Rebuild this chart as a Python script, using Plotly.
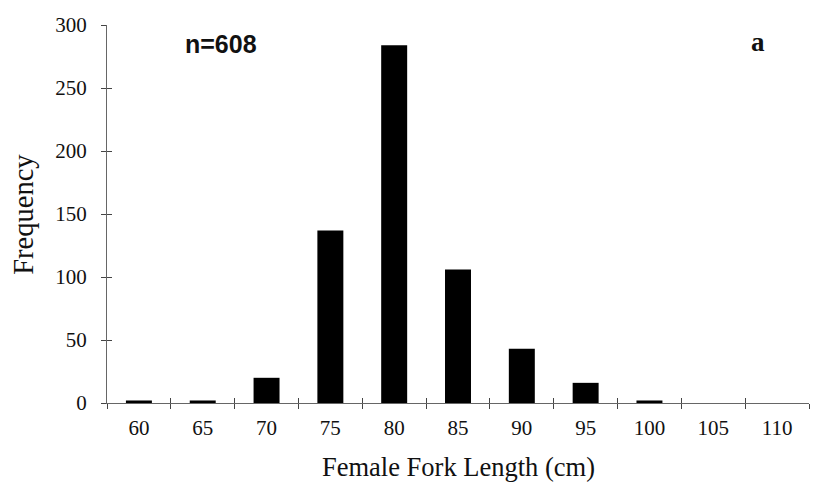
import plotly.graph_objects as go

categories = ["60", "65", "70", "75", "80", "85", "90", "95", "100", "105", "110"]
frequency = [2, 2, 20, 137, 284, 106, 43, 16, 2, 0, 0]
y_ticks = [0, 50, 100, 150, 200, 250, 300]

serif = "Liberation Serif, Times New Roman, serif"
sans = "Liberation Sans, Arial, sans-serif"

fig = go.Figure()
fig.add_trace(go.Bar(x=categories, y=frequency, marker=dict(color="black", line=dict(width=0)),
                     showlegend=False, hoverinfo="skip"))
# invisible copy on overlay axes so inner tick halves can be drawn
fig.add_trace(go.Bar(x=categories, y=frequency, xaxis="x2", yaxis="y2", opacity=0,
                     showlegend=False, hoverinfo="skip"))

common_x = dict(type="category", tickson="boundaries", categoryorder="array",
                categoryarray=categories, range=[-0.5, len(categories) - 0.5],
                tickcolor="#444", tickwidth=1, showgrid=False, automargin=False)
common_y = dict(range=[0, 300], tickvals=y_ticks, tickcolor="#444", tickwidth=1,
                showgrid=False, zeroline=False, automargin=False)

fig.update_layout(
    width=815, height=489,
    margin=dict(l=107, r=6, t=25, b=86),
    paper_bgcolor="white", plot_bgcolor="white",
    bargap=0.593,
    font=dict(family=serif, color="#111", size=21),
    xaxis=dict(**common_x, ticks="outside", ticklen=5, showline=True, linecolor="#666",
               linewidth=1, tickfont=dict(family=serif, size=21, color="#111"),
               ticklabelstandoff=6),
    yaxis=dict(**common_y, ticks="outside", ticklen=5, showline=True, linecolor="#666",
               linewidth=1, tickfont=dict(family=serif, size=21, color="#111"),
               ticklabelstandoff=10),
    xaxis2=dict(**common_x, overlaying="x", side="bottom", ticks="inside", ticklen=5,
                showline=False, showticklabels=False, anchor="y2"),
    yaxis2=dict(**common_y, overlaying="y", side="left", ticks="inside", ticklen=5,
                showline=False, showticklabels=False, anchor="x2"),
    annotations=[
        dict(text="<b>n=608</b>", xref="paper", yref="paper", x=0.108, y=0.95, xanchor="left",
             yanchor="middle", showarrow=False, font=dict(family=sans, size=25, color="#111")),
        dict(text="<b>a</b>", xref="paper", yref="paper", x=0.927, y=0.955, xanchor="center",
             yanchor="middle", showarrow=False, font=dict(family=serif, size=27, color="#111")),
        dict(text="Female Fork Length (cm)", xref="paper", yref="paper", x=0.5, y=-0.17,
             xanchor="center", yanchor="middle", showarrow=False,
             font=dict(family=serif, size=26.5, color="#111")),
        dict(text="Frequency", xref="paper", yref="paper", x=-0.12, y=0.5, textangle=-90,
             xanchor="center", yanchor="middle", showarrow=False,
             font=dict(family=serif, size=28.5, color="#111")),
    ],
)

fig.write_html("out.html", config={"displayModeBar": False},
               post_script="document.body.style.margin='0';document.body.style.overflow='hidden';")
